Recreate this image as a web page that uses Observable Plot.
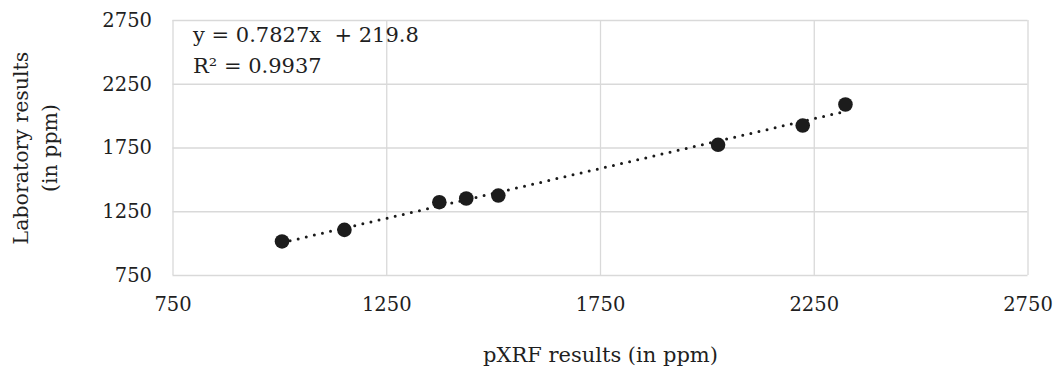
<!DOCTYPE html>
<html>
<head>
<meta charset="utf-8">
<script src="https://cdn.jsdelivr.net/npm/d3@7"></script>
<script src="https://cdn.jsdelivr.net/npm/@observablehq/plot@0.6"></script>
<style>
  html, body { margin: 0; padding: 0; background: #fff; }
</style>
</head>
<body>
<div id="chart"></div>
<script>
const pxrf = [1005, 1151, 1373, 1436, 1511, 2025, 2223, 2323];
const laboratory = [1017, 1108, 1325, 1354, 1377, 1775, 1926, 2091];
const ticks = [750, 1250, 1750, 2250, 2750];
const equationLines = ["y = 0.7827x  + 219.8", "R\u00B2 = 0.9937"];
const xLabel = "pXRF results (in ppm)";
const yLabel = "Laboratory results\n(in ppm)";

const data = pxrf.map((x, i) => ({x, y: laboratory[i]}));
const textColor = "#1f1f1f";
const gridColor = "#d9d9d9";

const chart = Plot.plot({
  width: 1057,
  height: 372,
  marginLeft: 172.5,
  marginRight: 29.5,
  marginTop: 20,
  marginBottom: 97,
  style: {fontFamily: "'DejaVu Serif', serif", fontSize: "20px", color: textColor, background: "#fff"},
  x: {domain: [750, 2750], ticks: ticks, label: null},
  y: {domain: [750, 2750], ticks: ticks, label: null},
  marks: [
    Plot.gridX(ticks, {stroke: gridColor, strokeOpacity: 1, strokeWidth: 1.3}),
    Plot.gridY(ticks, {stroke: gridColor, strokeOpacity: 1, strokeWidth: 1.3}),
    Plot.axisX(ticks, {tickSize: 0, tickPadding: 22, fontSize: 19.5, fill: textColor, tickFormat: d => String(d), label: null}),
    Plot.axisY(ticks, {tickSize: 0, tickPadding: 21, fontSize: 19.5, fill: textColor, tickFormat: d => String(d), label: null}),
    Plot.linearRegressionY(data, {x: "x", y: "y", ci: 0, stroke: "#1a1a1a", strokeWidth: 3, strokeDasharray: "0,8.3", strokeLinecap: "round"}),
    Plot.dot(data, {x: "x", y: "y", r: 7.3, fill: "#1c1c1c", stroke: "none"}),
    Plot.text([equationLines.join("\n")], {frameAnchor: "top-left", textAnchor: "start", lineAnchor: "top", dx: 20, dy: -1, lineHeight: 1.5, fontSize: 21, fill: textColor}),
    Plot.text([xLabel], {frameAnchor: "bottom", lineAnchor: "middle", dy: 80, fontSize: 21, fill: textColor}),
    Plot.text([yLabel], {frameAnchor: "left", rotate: -90, lineAnchor: "middle", textAnchor: "middle", dx: -140, lineHeight: 1.45, fontSize: 20.5, fill: textColor})
  ]
});
document.getElementById("chart").appendChild(chart);
</script>
</body>
</html>
